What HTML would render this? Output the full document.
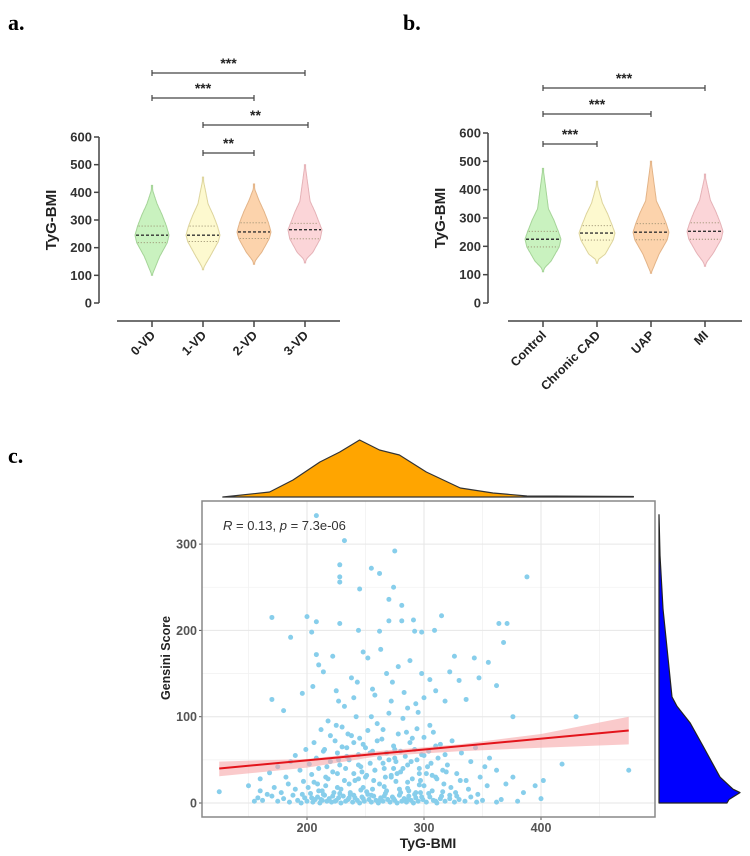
<!DOCTYPE html>
<html><head><meta charset="utf-8"><style>
html,body{margin:0;padding:0;background:#fff;}
svg{display:block;font-family:"Liberation Sans",Arial,sans-serif;}
</style></head><body>
<svg id="fig" width="750" height="856" viewBox="0 0 750 856">
<text x="8" y="30" font-family="Liberation Serif,serif" font-weight="bold" font-size="22">a.</text>
<text x="403" y="30" font-family="Liberation Serif,serif" font-weight="bold" font-size="22">b.</text>
<text x="8" y="463" font-family="Liberation Serif,serif" font-weight="bold" font-size="22">c.</text>
<g id="pa"></g>
<g id="pb"></g>
<g id="pc"></g>
</svg>
<script>
// ---- Panel a data ----
const aGroups = ["0-VD","1-VD","2-VD","3-VD"];
const aMin = [100,120,140,145];
const aQ1 = [218,222,233,232];
const aMed = [245,245,257,265];
const aQ3 = [278,278,290,288];
const aMax = [425,455,430,500];
const aBrackets = [[0,3,"***"],[0,2,"***"],[1,3,"**"],[1,2,"**"]];
// ---- Panel b data ----
const bGroups = ["Control","Chronic CAD","UAP","MI"];
const bMin = [110,140,105,130];
const bQ1 = [198,222,223,225];
const bMed = [225,247,250,253];
const bQ3 = [253,273,280,283];
const bMax = [475,430,500,455];
const bBrackets = [[0,3,"***"],[0,2,"***"],[0,1,"***"]];
const violinTicks = [0,100,200,300,400,500,600];
// ---- Panel c data ----
const scatterPoints = [
[155,2],[158,6],[162,3],[170,8],[175,2],[180,5],[185,1],[188,9],[192,3],[195,0],
[198,6],[200,2],[203,11],[205,1],[207,4],[209,7],[211,0],[213,3],[215,9],[217,2],
[219,5],[221,1],[223,12],[225,3],[227,6],[229,0],[231,8],[233,2],[235,4],[237,10],
[239,1],[241,6],[243,3],[245,0],[247,7],[249,2],[251,13],[253,4],[255,1],[257,8],
[259,3],[261,0],[263,6],[265,2],[267,11],[269,4],[271,1],[273,7],[275,3],[277,0],
[279,9],[281,2],[283,5],[285,1],[287,8],[289,3],[291,0],[293,6],[295,2],[297,12],
[299,4],[302,1],[305,7],[308,3],[311,0],[314,5],[318,2],[322,9],[326,1],[330,4],
[335,2],[340,7],[345,1],[350,3],[362,1],[380,2],[400,5],[366,4],[210,14],[246,15],
[226,18],[256,16],[286,17],[216,20],[236,22],[266,19],[296,21],[206,24],[276,25],[244,28],
[150,20],[160,28],[168,35],[175,42],[182,30],[186,48],[190,55],[194,38],[197,25],[199,62],
[202,45],[204,33],[206,70],[208,52],[210,40],[212,85],[214,60],[216,30],[218,95],[220,48],
[222,36],[224,72],[226,58],[228,44],[230,88],[232,26],[234,64],[236,50],[238,78],[240,34],
[242,100],[244,56],[246,42],[248,68],[250,30],[252,84],[254,46],[256,60],[258,38],[260,92],
[262,52],[264,74],[266,40],[268,58],[270,104],[272,32],[274,66],[276,48],[278,80],[280,36],
[282,98],[284,54],[286,44],[288,70],[290,28],[292,62],[294,86],[296,40],[298,56],[300,76],
[302,34],[304,60],[306,46],[308,82],[310,30],[312,52],[314,68],[316,38],[318,56],[320,44],
[324,72],[328,34],[332,58],[336,26],[340,48],[344,64],[348,30],[352,42],[356,52],[362,38],
[370,22],[376,30],[385,12],[395,20],[402,26],[418,45],[430,100],[376,100],[475,38],[125,13],
[215,62],[225,90],[235,80],[245,75],[255,100],[265,85],[275,62],[285,82],[295,105],[305,90],
[230,65],[240,70],[250,64],[260,72],[270,50],[280,60],[290,75],[300,55],[310,66],[220,78],
[170,120],[180,107],[196,127],[205,135],[210,160],[214,152],[222,170],[225,130],[232,112],[238,145],
[243,140],[248,175],[252,168],[258,125],[263,178],[268,150],[273,140],[278,158],[283,128],[288,165],
[293,115],[298,150],[305,143],[310,130],[318,118],[322,152],[326,170],[330,142],[336,120],[343,168],
[347,145],[355,163],[362,136],[227,118],[256,132],[286,110],[208,172],[240,122],[272,118],[300,122],
[208,333],[232,304],[275,292],[228,276],[228,262],[228,256],[255,272],[262,266],[245,248],[274,250],
[388,262],[270,236],[281,229],[170,215],[200,216],[208,210],[228,208],[270,211],[281,211],[291,212],
[315,217],[364,208],[371,208],[204,198],[244,200],[262,199],[292,199],[298,198],[309,200],[186,192],[368,186],
[196,10],[201,18],[204,6],[209,22],[213,14],[218,28],[222,8],[226,34],[229,16],[233,40],
[237,12],[241,26],[244,44],[248,18],[251,32],[255,9],[258,38],[262,22],[265,46],[268,14],
[272,30],[275,52],[279,16],[282,40],[286,24],[289,48],[293,12],[296,34],[300,20],[303,42],
[307,14],[311,28],[315,8],[319,36],[323,18],[327,12],[331,26],[338,16],[346,10],[354,20],
[190,16],[184,22],[178,12],[172,18],[166,10],[160,14],[234,54],[254,58],[274,40],[294,50],
[217,42],[227,50],[247,36],[257,26],[267,30],[277,34],[287,14],[297,26],[307,32],[317,22],
[212,4],[224,2],[236,6],[248,5],[262,3],[274,5],[286,4],[298,7],[310,2],[322,5],
[214,10],[228,11],[240,9],[252,10],[266,8],[280,12],[292,10],[304,11],[316,13],[328,8]
];
const regX = [125,475];
const regY = [40,84];
const bandX = [125,200,260,330,400,475];
const bandLo = [31,41,54,60,64,68];
const bandHi = [48,51,60,68,80,100];
const topDensX = [128,168,188,211,228,245,262,279,302,331,359,388,479];
const topDensH = [0,5,17,35,45,57,47,42,25,9,4,1,0.5];
const rightDensY = [0,4,12,16,30,66,93,112,123,225,287,334];
const rightDensW = [68,70,81,74,61,44,31,18,13,4,1,0];
const cXTicks = [200,300,400];
const cYTicks = [0,100,200,300];

const NS="http://www.w3.org/2000/svg";
function mk(tag,attrs,parent){const e=document.createElementNS(NS,tag);for(const k in attrs)e.setAttribute(k,attrs[k]);parent.appendChild(e);return e;}

const fills=["#c9f2bf","#fdf9cf","#fcd3ac","#fbd5d8"];
const strokes=["#a5d498","#ddd49c","#e3b488","#e5b2b7"];

function violinPanel(g,cfg){
  const yv=v=>cfg.y0-v*cfg.ys;
  const ax=mk("line",{x1:cfg.axX,x2:cfg.axX,y1:yv(600),y2:yv(0),stroke:"#444","stroke-width":1.5},g);
  
  
  violinTicks.forEach(t=>{
    const tk=mk("line",{x1:cfg.axX-5,x2:cfg.axX,y1:yv(t),y2:yv(t),stroke:"#444","stroke-width":1.5},g);
    
    
    const tl=mk("text",{x:cfg.axX-7,y:yv(t)+4.5,"text-anchor":"end","font-size":13,"font-weight":"bold",fill:"#333"},g);
    tl.textContent=t;
    
    
  });
  const yl=mk("text",{x:0,y:0,transform:`translate(${cfg.axX-43},${yv(300)}) rotate(-90)`,"text-anchor":"middle","font-size":15,"font-weight":"bold",fill:"#222"},g);
  yl.textContent="TyG-BMI";
  
  
  const xa=mk("line",{x1:cfg.xaL,x2:cfg.xaR,y1:321,y2:321,stroke:"#444","stroke-width":1.5},g);
  
  
  cfg.groups.forEach((name,i)=>{
    const cx=cfg.xs[i];
    const tk=mk("line",{x1:cx,x2:cx,y1:321,y2:327,stroke:"#444","stroke-width":1.5},g);
    
    
    const lb=mk("text",{x:0,y:0,transform:`translate(${cx+4},${336}) rotate(-45)`,"text-anchor":"end","font-size":12.5,"font-weight":"bold",fill:"#222"},g);
    lb.textContent=name;
    
    
    const mn=cfg.min[i],q1=cfg.q1[i],md=cfg.med[i],q3=cfg.q3[i],mx=cfg.max[i];
    const kv=[mn,mn+15,q1-50,q1,md,q3,q3+40,q3+80,mx-20,mx];
    const kd=[0,0.1,0.45,0.9,1,0.85,0.6,0.3,0.05,0];
    const dens=v=>{for(let k=0;k<kv.length-1;k++){if(v>=kv[k]&&v<=kv[k+1]){const f=(v-kv[k])/(kv[k+1]-kv[k]);return kd[k]+(kd[k+1]-kd[k])*f;}}return 0;};
    const W=cfg.halfW;
    let right=[],left=[];
    for(let s=0;s<=80;s++){const v=mn+(mx-mn)*s/80;const w=Math.max(dens(v)*W,0.6);right.push([cx+w,yv(v)]);left.push([cx-w,yv(v)]);}
    const pts=right.concat(left.reverse());
    const vp=mk("path",{d:"M"+pts.map(p=>p[0].toFixed(1)+","+p[1].toFixed(1)).join("L")+"Z",fill:fills[i],stroke:strokes[i],"stroke-width":1},g);
    
    
    [[q1,"#9a8f70","1.2,1.8",0.9],[q3,"#9a8f70","1.2,1.8",0.9],[md,"#333","3,2",1.4]].forEach(([v,c,da,sw],j)=>{
      const w=dens(v)*W-1;
      const ln=mk("line",{x1:cx-w,x2:cx+w,y1:yv(v),y2:yv(v),stroke:c,"stroke-dasharray":da,"stroke-width":sw},g);
      
      
    });
  });
  cfg.brackets.forEach((b,k)=>{
    const x1=cfg.xs[b[0]],x2=cfg.xs[b[1]]+cfg.bx[k],y=cfg.by[k];
    const bg=mk("g",{},g);
    
    
    mk("path",{d:`M${x1},${y-3}V${y+3}M${x1},${y}H${x2}M${x2},${y-3}V${y+3}`,stroke:"#444","stroke-width":1.2,fill:"none"},bg);
    const st=mk("text",{x:(x1+x2)/2,y:y-5,"text-anchor":"middle","font-size":14,"font-weight":"bold",fill:"#222"},bg);
    st.textContent=b[2];
    
    
  });
}
violinPanel(document.getElementById("pa"),{groups:aGroups,min:aMin,q1:aQ1,med:aMed,q3:aQ3,max:aMax,brackets:aBrackets,
  axX:99,y0:303,ys:166/600,xs:[152,203,254,305],xaL:117,xaR:340,halfW:17,by:[73,98,125,153],bx:[0,0,3,0]});
violinPanel(document.getElementById("pb"),{groups:bGroups,min:bMin,q1:bQ1,med:bMed,q3:bQ3,max:bMax,brackets:bBrackets,
  axX:488,y0:303,ys:170/600,xs:[543,597,651,705],xaL:508,xaR:742,halfW:18,by:[88,114,144],bx:[0,0,0]});

(function(){
  const g=document.getElementById("pc");
  const X=v=>307+(v-200)*1.17, Y=v=>803-v*0.863;
  const L=202,R=655,T=501,B=817;
  const bg=mk("rect",{x:L,y:T,width:R-L,height:B-T,fill:"#fff"},g);
  
  
  [150,250,350,450].forEach(v=>{const l=mk("line",{x1:X(v),x2:X(v),y1:T,y2:B,stroke:"#f2f2f2","stroke-width":0.8},g);});
  [50,150,250].forEach(v=>{const l=mk("line",{x1:L,x2:R,y1:Y(v),y2:Y(v),stroke:"#f2f2f2","stroke-width":0.8},g);});
  cXTicks.forEach(v=>{
    const l=mk("line",{x1:X(v),x2:X(v),y1:T,y2:B,stroke:"#e6e6e6","stroke-width":1},g);
    
    
    const tk=mk("line",{x1:X(v),x2:X(v),y1:B,y2:B+3,stroke:"#555"},g);
    
    
    const t=mk("text",{x:X(v),y:B+15,"text-anchor":"middle","font-size":12.5,"font-weight":"bold",fill:"#555"},g);
    t.textContent=v;
    
    
  });
  cYTicks.forEach(v=>{
    const l=mk("line",{x1:L,x2:R,y1:Y(v),y2:Y(v),stroke:"#e6e6e6","stroke-width":1},g);
    
    
    const tk=mk("line",{x1:L-3,x2:L,y1:Y(v),y2:Y(v),stroke:"#555"},g);
    
    
    const t=mk("text",{x:L-5,y:Y(v)+4.5,"text-anchor":"end","font-size":12.5,"font-weight":"bold",fill:"#555"},g);
    t.textContent=v;
    
    
  });
  scatterPoints.forEach(p=>{
    const c=mk("circle",{cx:X(p[0]),cy:Y(p[1]),r:2.5,fill:"#87ceeb"},g);
    
    
  });
  let up=bandX.map((v,i)=>X(v)+","+Y(bandHi[i])), lo=bandX.map((v,i)=>X(v)+","+Y(bandLo[i])).reverse();
  const band=mk("polygon",{points:up.concat(lo).join(" "),fill:"#f7a7a9","fill-opacity":0.6},g);
  
  
  const rl=mk("line",{x1:X(regX[0]),y1:Y(regY[0]),x2:X(regX[1]),y2:Y(regY[1]),stroke:"#e3141b","stroke-width":2},g);
  
  
  const fr=mk("rect",{x:L,y:T,width:R-L,height:B-T,fill:"none",stroke:"#888","stroke-width":1.5},g);
  
  
  const st=mk("text",{x:223,y:530,"font-size":13,fill:"#333"},g);
  st.innerHTML='<tspan font-style="italic">R</tspan> = 0.13, <tspan font-style="italic">p</tspan> = 7.3e-06';
  
  
  const xt=mk("text",{x:428,y:848,"text-anchor":"middle","font-size":14,"font-weight":"bold",fill:"#222"},g);
  xt.textContent="TyG-BMI";
  
  
  const yt=mk("text",{x:0,y:0,transform:"translate(170,658) rotate(-90)","text-anchor":"middle","font-size":12.5,"font-weight":"bold",fill:"#222"},g);
  yt.textContent="Gensini Score";
  
  
  const base=497;
  let d="M"+X(topDensX[0])+","+base;
  topDensX.forEach((v,i)=>{d+="L"+X(v).toFixed(1)+","+(base-topDensH[i]).toFixed(1);});
  d+="L"+X(topDensX[topDensX.length-1])+","+base+"Z";
  const td=mk("path",{d:d,fill:"#ffa500",stroke:"#333","stroke-width":1.2,"stroke-linejoin":"round"},g);
  
  
  const bx=659;
  let d2="M"+bx+","+Y(rightDensY[0]);
  rightDensY.forEach((v,i)=>{d2+="L"+(bx+rightDensW[i]).toFixed(1)+","+Y(v).toFixed(1);});
  d2+="L"+bx+","+Y(rightDensY[rightDensY.length-1])+"Z";
  const rd=mk("path",{d:d2,fill:"#0000ff",stroke:"#222","stroke-width":1.2,"stroke-linejoin":"round"},g);
  
  
})();
</script>
</body></html>
